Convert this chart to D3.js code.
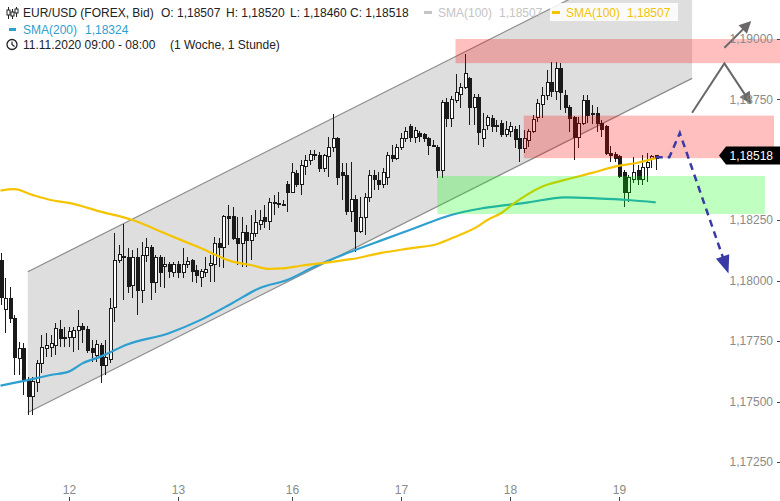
<!DOCTYPE html>
<html><head><meta charset="utf-8">
<script src="https://cdn.jsdelivr.net/npm/d3@7"></script>
<style>html,body{margin:0;padding:0;background:#fff;} svg{display:block;font-family:"Liberation Sans",Arial,sans-serif;}</style>
</head><body><svg id="c" width="780" height="501"></svg>
<script>
// ---- DATA (hourly candles 11.11.2020 09:00 .. 19.11.2020 08:00), rows = [open, high, low, close]
const candles = [
[1.18085,1.18114,1.17899,1.17932],[1.17879,1.18011,1.17783,1.17928],[1.17928,1.17974,1.17825,1.17845],[1.17845,1.17858,1.17610,1.17684],
[1.17680,1.17746,1.17610,1.17721],[1.17721,1.17742,1.17527,1.17589],[1.17589,1.17601,1.17444,1.17519],[1.17519,1.17601,1.17444,1.17581],
[1.17577,1.17672,1.17539,1.17659],[1.17659,1.17775,1.17618,1.17725],[1.17721,1.17783,1.17684,1.17730],[1.17725,1.17775,1.17684,1.17742],
[1.17734,1.17825,1.17692,1.17804],[1.17800,1.17837,1.17725,1.17763],[1.17767,1.17808,1.17725,1.17763],[1.17767,1.17808,1.17725,1.17788],
[1.17767,1.17808,1.17705,1.17792],[1.17792,1.17879,1.17713,1.17812],[1.17812,1.17825,1.17742,1.17800],[1.17800,1.17812,1.17701,1.17713],
[1.17721,1.17754,1.17663,1.17701],[1.17692,1.17754,1.17663,1.17738],[1.17734,1.17742,1.17577,1.17651],[1.17651,1.17754,1.17610,1.17684],
[1.17672,1.17928,1.17659,1.17887],[1.17891,1.18197,1.17829,1.18085],[1.18085,1.18148,1.18073,1.18110],[1.18098,1.18234,1.17920,1.18102],
[1.18098,1.18135,1.17949,1.17974],[1.17982,1.18127,1.17928,1.18094],[1.18094,1.18135,1.17858,1.17961],[1.17961,1.18160,1.17908,1.18106],
[1.18106,1.18176,1.18077,1.18139],[1.18139,1.18148,1.17920,1.17994],[1.17994,1.18106,1.17949,1.18098],[1.18098,1.18106,1.17974,1.18036],
[1.18057,1.18098,1.17970,1.18069],[1.18069,1.18077,1.18011,1.18040],[1.18036,1.18077,1.18015,1.18069],[1.18069,1.18081,1.18011,1.18032],
[1.18036,1.18135,1.18011,1.18069],[1.18069,1.18098,1.18052,1.18081],[1.18085,1.18090,1.17994,1.18040],[1.18044,1.18065,1.17990,1.18023],
[1.18015,1.18048,1.17974,1.18040],[1.18036,1.18098,1.18015,1.18048],[1.18065,1.18106,1.17994,1.18073],[1.18069,1.18181,1.17994,1.18152],
[1.18156,1.18176,1.18057,1.18139],[1.18139,1.18272,1.18052,1.18267],[1.18267,1.18313,1.18148,1.18259],[1.18267,1.18305,1.18168,1.18176],
[1.18176,1.18263,1.18065,1.18156],[1.18156,1.18263,1.18057,1.18201],[1.18201,1.18230,1.18057,1.18168],[1.18168,1.18272,1.18085,1.18197],
[1.18197,1.18292,1.18181,1.18239],[1.18234,1.18292,1.18210,1.18251],[1.18263,1.18313,1.18218,1.18243],[1.18243,1.18342,1.18210,1.18325],
[1.18321,1.18354,1.18272,1.18325],[1.18321,1.18367,1.18301,1.18321],[1.18317,1.18334,1.18309,1.18317],[1.18396,1.18412,1.18284,1.18367],
[1.18367,1.18487,1.18363,1.18449],[1.18445,1.18458,1.18387,1.18400],[1.18396,1.18499,1.18354,1.18478],[1.18474,1.18520,1.18437,1.18499],
[1.18499,1.18540,1.18478,1.18524],[1.18516,1.18540,1.18499,1.18524],[1.18516,1.18532,1.18449,1.18466],[1.18466,1.18524,1.18449,1.18516],
[1.18512,1.18594,1.18429,1.18553],[1.18553,1.18689,1.18532,1.18590],[1.18590,1.18594,1.18396,1.18429],[1.18449,1.18487,1.18334,1.18437],
[1.18437,1.18487,1.18272,1.18288],[1.18288,1.18491,1.18243,1.18334],[1.18334,1.18354,1.18119,1.18205],[1.18205,1.18346,1.18197,1.18263],
[1.18263,1.18363,1.18189,1.18346],[1.18346,1.18458,1.18325,1.18437],[1.18437,1.18458,1.18375,1.18420],[1.18416,1.18449,1.18375,1.18400],
[1.18400,1.18466,1.18383,1.18449],[1.18425,1.18532,1.18396,1.18520],[1.18520,1.18561,1.18491,1.18507],[1.18507,1.18565,1.18499,1.18553],
[1.18553,1.18611,1.18540,1.18590],[1.18590,1.18636,1.18574,1.18619],[1.18636,1.18648,1.18574,1.18594],[1.18594,1.18636,1.18569,1.18623],
[1.18611,1.18619,1.18574,1.18598],[1.18603,1.18611,1.18574,1.18590],[1.18590,1.18594,1.18520,1.18561],[1.18561,1.18582,1.18553,1.18557],
[1.18553,1.18561,1.18425,1.18458],[1.18458,1.18747,1.18425,1.18739],[1.18739,1.18756,1.18636,1.18673],[1.18673,1.18764,1.18636,1.18751],
[1.18747,1.18855,1.18735,1.18777],[1.18772,1.18818,1.18715,1.18801],[1.18801,1.18938,1.18793,1.18859],[1.18838,1.18842,1.18644,1.18715],
[1.18715,1.18772,1.18644,1.18760],[1.18760,1.18772,1.18561,1.18615],[1.18590,1.18693,1.18553,1.18627],[1.18644,1.18685,1.18623,1.18677],
[1.18673,1.18685,1.18615,1.18636],[1.18644,1.18665,1.18615,1.18636],[1.18652,1.18665,1.18594,1.18603],[1.18603,1.18660,1.18594,1.18627],
[1.18619,1.18656,1.18594,1.18636],[1.18627,1.18640,1.18549,1.18586],[1.18590,1.18644,1.18491,1.18545],[1.18545,1.18623,1.18528,1.18590],
[1.18582,1.18627,1.18553,1.18619],[1.18619,1.18685,1.18611,1.18669],[1.18677,1.18751,1.18656,1.18735],[1.18727,1.18801,1.18673,1.18768],
[1.18768,1.18871,1.18747,1.18818],[1.18818,1.18905,1.18760,1.18781],[1.18781,1.18905,1.18747,1.18880],[1.18880,1.18900,1.18706,1.18777],
[1.18768,1.18789,1.18693,1.18718],[1.18718,1.18727,1.18615,1.18673],[1.18677,1.18681,1.18499,1.18594],[1.18594,1.18677,1.18549,1.18652],
[1.18652,1.18768,1.18644,1.18747],[1.18747,1.18768,1.18652,1.18685],[1.18693,1.18727,1.18648,1.18689],[1.18693,1.18718,1.18615,1.18652],
[1.18652,1.18665,1.18594,1.18627],[1.18636,1.18644,1.18520,1.18528],[1.18528,1.18557,1.18491,1.18520],[1.18524,1.18532,1.18491,1.18507],
[1.18512,1.18520,1.18425,1.18433],[1.18449,1.18458,1.18305,1.18367],[1.18367,1.18437,1.18325,1.18429],[1.18420,1.18512,1.18404,1.18449],
[1.18454,1.18478,1.18396,1.18420],[1.18420,1.18520,1.18396,1.18470],[1.18470,1.18528,1.18408,1.18487],[1.18507,1.18520,1.18466,1.18512],
[1.18507,1.18520,1.18460,1.18518]
];
const sma100Idx = [0,3,7,11,15,22,29,37,44,51,55,59,62,66,72,77,84,90,96,100,105,107,110,113,119,124,130,135,140,144];
const sma100Val = [1.18373,1.18379,1.18355,1.18334,1.18322,1.18286,1.18251,1.18189,1.18135,1.18079,1.18065,1.18049,1.18051,1.18062,1.18076,1.18089,1.18116,1.18134,1.18152,1.18182,1.18226,1.18251,1.18279,1.18322,1.18389,1.18417,1.18446,1.18472,1.18488,1.18507];
const sma200Idx = [0,6,11,15,18,22,28,37,44,51,57,63,69,77,84,91,99,106,116,124,131,138,144];
const sma200Val = [1.17566,1.17589,1.1761,1.17624,1.17658,1.17686,1.17737,1.17783,1.17838,1.17908,1.1797,1.18003,1.18058,1.1812,1.18169,1.18217,1.18272,1.183,1.18324,1.18345,1.18341,1.18334,1.18324];
const yTicks = [1.1725,1.175,1.1775,1.18,1.1825,1.185,1.1875,1.19];
const dayTickIdx = [15,39,64,88,112,136];
const dayLabels = ["12","13","16","17","18","19"];
const lastClose = 1.18518;
// drawings (in candle index / price units)
const channelIdx = [6,152];
const channelUpper = [1.18037,1.19420];
const channelLower = [1.17455,1.18837];
const redZones = [[100,172,1.19000,1.18900],[115,170,1.18683,1.18507]];
const greenZone = [96,168,1.18433,1.18276];
const zigzag = [[152,1.18695],[159.1,1.18899],[165,1.18731]];
const upArrow = [[159.1,1.18964],[165,1.19074]];
const forecast = [[144,1.18511],[147,1.18511],[149.3,1.18611],[160,1.18030]];

// ---- CHART
const svg = d3.select("#c");
const x = d3.scaleLinear().domain([0,144]).range([0.5,655.7]);
const y = d3.scaleLinear().domain([1.1725,1.19]).range([462,39]);
const fmt = v => d3.format(".5f")(v).replace(".",",");

svg.append("defs").append("clipPath").attr("id","plot")
  .append("rect").attr("x",0).attr("y",0).attr("width",780).attr("height",482);
const g = svg.append("g").attr("clip-path","url(#plot)");

// channel
const chPts = [[channelIdx[0],channelUpper[0]],[channelIdx[1],channelUpper[1]],[channelIdx[1],channelLower[1]],[channelIdx[0],channelLower[0]]]
  .map(p=>[x(p[0]),y(p[1])]);
g.append("path").attr("d","M"+chPts.join("L")+"Z").attr("fill","#dedede");
g.append("line").attr("x1",chPts[0][0]).attr("y1",chPts[0][1]).attr("x2",chPts[1][0]).attr("y2",chPts[1][1]).attr("stroke","#8c8c8c").attr("stroke-width",1.2);
g.append("line").attr("x1",chPts[3][0]).attr("y1",chPts[3][1]).attr("x2",chPts[2][0]).attr("y2",chPts[2][1]).attr("stroke","#8c8c8c").attr("stroke-width",1.2);

// candles
const cg = g.append("g").attr("shape-rendering","crispEdges");
candles.forEach((d,i)=>{
  const [o,h,l,c] = d;
  const cx = Math.round(x(i))+0.5;
  cg.append("line").attr("x1",cx).attr("x2",cx).attr("y1",y(h)).attr("y2",y(l)).attr("stroke","#1a1a1a").attr("stroke-width",1);
  const top = y(Math.max(o,c)), bot = y(Math.min(o,c));
  const up = c>=o;
  cg.append("rect").attr("x",cx-1.5).attr("y",top).attr("width",3).attr("height",Math.max(1,bot-top))
    .attr("fill", up ? "#fff" : "#1a1a1a").attr("stroke","#1a1a1a").attr("stroke-width",1);
});

// moving averages
const line = d3.line().x(d=>x(d[0])).y(d=>y(d[1])).curve(d3.curveMonotoneX);
g.append("path").attr("d",line(sma200Idx.map((v,k)=>[v,sma200Val[k]]))).attr("fill","none").attr("stroke","#2d9fd0").attr("stroke-width",2.2);
g.append("path").attr("d",line(sma100Idx.map((v,k)=>[v,sma100Val[k]]))).attr("fill","none").attr("stroke","#f5c400").attr("stroke-width",2.2);

// zones (translucent, on top)
redZones.forEach(z=>{
  g.append("rect").attr("x",x(z[0])).attr("y",y(z[2])).attr("width",x(z[1])-x(z[0])).attr("height",y(z[3])-y(z[2])).attr("fill","rgba(255,0,0,0.25)");
});
g.append("rect").attr("x",x(greenZone[0])).attr("y",y(greenZone[2])).attr("width",x(greenZone[1])-x(greenZone[0])).attr("height",y(greenZone[3])-y(greenZone[2])).attr("fill","rgba(0,255,0,0.25)");

// arrows
function head(par, from, tip, len, hw, color){
  const dx=tip[0]-from[0], dy=tip[1]-from[1], L=Math.hypot(dx,dy), ux=dx/L, uy=dy/L;
  const bx=tip[0]-ux*len, by=tip[1]-uy*len;
  par.append("path").attr("d",`M${tip[0]},${tip[1]}L${bx-uy*hw},${by+ux*hw}L${bx+uy*hw},${by-ux*hw}Z`).attr("fill",color);
  return [bx+ux*1,by+uy*1];
}
const zz = zigzag.map(p=>[x(p[0]),y(p[1])]);
const zzEnd = head(g, zz[1], zz[2], 12, 6, "#6b6868");
g.append("path").attr("d",`M${zz[0]}L${zz[1]}L${zzEnd}`).attr("fill","none").attr("stroke","#6b6868").attr("stroke-width",2);
const ua = upArrow.map(p=>[x(p[0]),y(p[1])]);
const uaEnd = head(g, ua[0], ua[1], 12, 6, "#6b6868");
g.append("path").attr("d",`M${ua[0]}L${uaEnd}`).attr("fill","none").attr("stroke","#6b6868").attr("stroke-width",2);
const fc = forecast.map(p=>[x(p[0]),y(p[1])]);
const fcEnd = head(g, fc[2], fc[3], 18, 7, "#3a3aa6");
g.append("path").attr("d",`M${fc[0]}L${fc[1]}L${fc[2]}L${fcEnd}`).attr("fill","none").attr("stroke","#3a3aa6").attr("stroke-width",2.5).attr("stroke-dasharray","7,5");

// y axis (the label hidden behind the last-price tag is skipped)
const ly = y(lastClose);
const ya = svg.append("g");
yTicks.forEach(t=>{
  ya.append("line").attr("x1",777).attr("x2",780).attr("y1",Math.round(y(t))+0.5).attr("y2",Math.round(y(t))+0.5).attr("stroke","#444");
  if (Math.abs(y(t)-ly) > 14)
    ya.append("text").attr("x",773).attr("y",y(t)).attr("dy","0.35em").attr("text-anchor","end").attr("font-size",12).attr("fill","#8a8a8a").text(fmt(t));
});
// last price tag
svg.append("path").attr("d",`M719,${ly}L726,${ly-9}L780,${ly-9}L780,${ly+9}L726,${ly+9}Z`).attr("fill","#000");
svg.append("text").attr("x",773).attr("y",ly).attr("dy","0.35em").attr("text-anchor","end").attr("font-size",12).attr("fill","#fff").text(fmt(lastClose));

// x axis
dayTickIdx.forEach((t,k)=>{
  const px = Math.round(x(t))+0.5;
  svg.append("line").attr("x1",px).attr("x2",px).attr("y1",497).attr("y2",501).attr("stroke","#444");
  svg.append("text").attr("x",px).attr("y",490).attr("dy","0.35em").attr("text-anchor","middle").attr("font-size",12).attr("fill","#8a8a8a").text(dayLabels[k]);
});

// legend
const lg = svg.append("g").attr("font-size",12);
[[8,7,19,10,15],[12,9,19,12,16],[16,7,17,9,13]].forEach(a=>{
  lg.append("line").attr("x1",a[0]+0.5).attr("x2",a[0]+0.5).attr("y1",a[1]).attr("y2",a[2]).attr("stroke","#222");
  lg.append("rect").attr("x",a[0]-1).attr("y",a[3]).attr("width",3).attr("height",a[4]-a[3]).attr("fill","#fff").attr("stroke","#222");
});
const last = candles[candles.length-1];
lg.append("text").attr("x",23).attr("y",17).attr("fill","#222").text("EUR/USD (FOREX, Bid)");
lg.append("text").attr("x",161).attr("y",17).attr("fill","#222").text("O: " + fmt(last[0]));
lg.append("text").attr("x",226).attr("y",17).attr("fill","#222").text("H: " + fmt(last[1]));
lg.append("text").attr("x",290).attr("y",17).attr("fill","#222").text("L: " + fmt(last[2]));
lg.append("text").attr("x",350).attr("y",17).attr("fill","#222").text("C: " + fmt(last[3]));
lg.append("rect").attr("x",424).attr("y",11).attr("width",8).attr("height",3).attr("fill","#c4c4c4");
lg.append("text").attr("x",438).attr("y",17).attr("fill","#c4c4c4").text("SMA(100)");
lg.append("text").attr("x",499).attr("y",17).attr("fill","#c4c4c4").text(fmt(sma100Val[sma100Val.length-1]));
lg.append("rect").attr("x",550).attr("y",3).attr("width",128).attr("height",18).attr("fill","rgba(255,255,255,0.85)");
lg.append("rect").attr("x",552).attr("y",11).attr("width",8).attr("height",3).attr("fill","#f5c400");
lg.append("text").attr("x",566).attr("y",17).attr("fill","#f5c400").text("SMA(100)");
lg.append("text").attr("x",627).attr("y",17).attr("fill","#f5c400").text(fmt(sma100Val[sma100Val.length-1]));
lg.append("rect").attr("x",9).attr("y",28).attr("width",7).attr("height",3).attr("fill","#2d9fd0");
lg.append("text").attr("x",23).attr("y",33.5).attr("fill","#2d9fd0").text("SMA(200)");
lg.append("text").attr("x",85).attr("y",33.5).attr("fill","#2d9fd0").text(fmt(sma200Val[sma200Val.length-1]));
lg.append("circle").attr("cx",12).attr("cy",44.5).attr("r",5).attr("fill","none").attr("stroke","#222").attr("stroke-width",1.3);
lg.append("path").attr("d","M12,41.5L12,44.5L14.5,46.5").attr("fill","none").attr("stroke","#222").attr("stroke-width",1.2);
lg.append("text").attr("x",23).attr("y",49).attr("fill","#222").text("11.11.2020 09:00 - 08:00");
lg.append("text").attr("x",170).attr("y",49).attr("fill","#222").text("(1 Woche, 1 Stunde)");
</script></body></html>
